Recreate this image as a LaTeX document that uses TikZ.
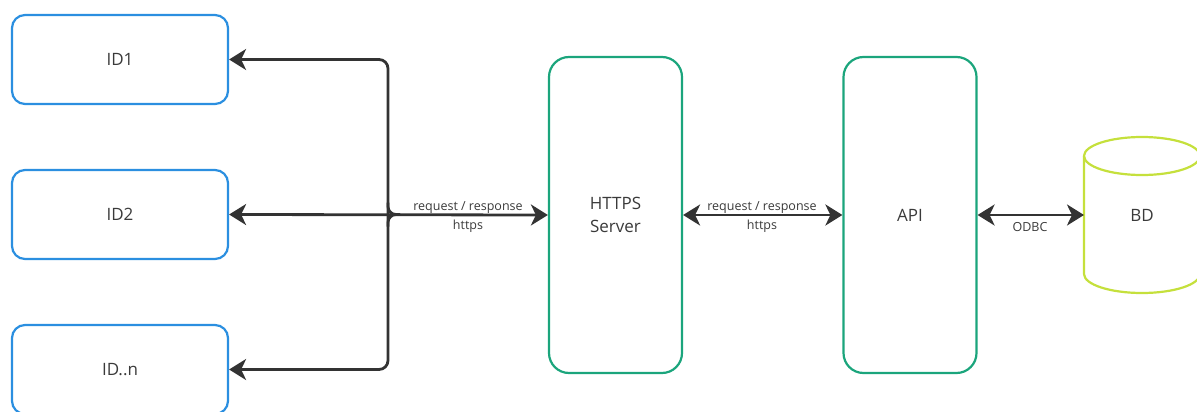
\documentclass[tikz,border=0pt]{standalone}
\usepackage{fontspec}
\setmainfont{Open Sans}
\usetikzlibrary{arrows.meta,shapes.geometric}
\definecolor{idblue}{HTML}{2B8FE0}
\definecolor{srvgreen}{HTML}{1BA57C}
\definecolor{dblime}{HTML}{C5E03C}
\definecolor{ink}{HTML}{333333}
\definecolor{txt}{HTML}{3A3A3A}
\tikzset{
  bigfont/.style={font=\fontsize{17}{23}\selectfont},
  idbox/.style={draw=idblue, line width=2.2pt, rounded corners=13pt, minimum width=216pt, minimum height=89pt, inner sep=0pt, text=txt, bigfont},
  srvbox/.style={draw=srvgreen, line width=2.2pt, rounded corners=20pt, minimum width=133pt, minimum height=316pt, inner sep=0pt, text=txt, align=center, bigfont},
  tip/.tip={Stealth[length=17pt,width=21pt,inset=5pt]},
  conn/.style={draw=ink, line width=2.8pt, -tip},
  connb/.style={draw=ink, line width=2.8pt, tip-tip},
  lbl/.style={text=txt, font=\fontsize{12.5}{14}\selectfont, inner sep=0pt},
}
\begin{document}
\begin{tikzpicture}[x=1pt,y=-1pt]
\useasboundingbox (0,0) rectangle (1197,412);
\node[idbox] (id1) at (120,59.5) {ID1};
\node[idbox] (id2) at (120,214.5) {ID2};
\node[idbox] (idn) at (120,369.5) {ID..n};
\node[srvbox] (https) at (615.5,215) {HTTPS\\Server};
\node[srvbox] (api) at (910,215) {API};
% cylinder
\fill[white] (1084,156) -- (1084,274) arc[start angle=180,end angle=0,x radius=58,y radius=19] -- (1200,156) -- cycle;
\draw[dblime, line width=2.2pt] (1084,156) -- (1084,274) arc[start angle=180,end angle=0,x radius=58,y radius=19] -- (1200,156);
\draw[dblime, line width=2.2pt] (1142,156) ellipse[x radius=58,y radius=19];
\coordinate (bdw) at (1084,215);
\node[text=txt, bigfont] (bd) at (1142,215) {BD};
% connectors
\coordinate (j) at (388,214.5);
\draw[conn, rounded corners=9pt] (j) -- (j |- id1.east) -- (id1.east);
\draw[conn, rounded corners=9pt] (j) -- (j |- idn.east) -- (idn.east);
\draw[ink, line width=2.8pt, rounded corners=8pt] ([yshift=-12pt]j) -- (j) -- ([xshift=12pt]j);
\draw[ink, line width=2.8pt, rounded corners=8pt] ([yshift=12pt]j) -- (j) -- ([xshift=12pt]j);
\draw[connb] (id2.east) -- (https.west);
\node[lbl, anchor=base] (l1a) at (468,210) {request / response};
\node[lbl, anchor=base] (l1b) at (468,229) {https};
\draw[connb] (https.east) -- (api.west);
\node[lbl, anchor=base] (l2a) at (762,210) {request / response};
\node[lbl, anchor=base] (l2b) at (762,229) {https};
\draw[connb] (api.east) -- (bdw);
\node[lbl, anchor=base] (l3) at (1030,231) {ODBC};
\end{tikzpicture}
\end{document}
